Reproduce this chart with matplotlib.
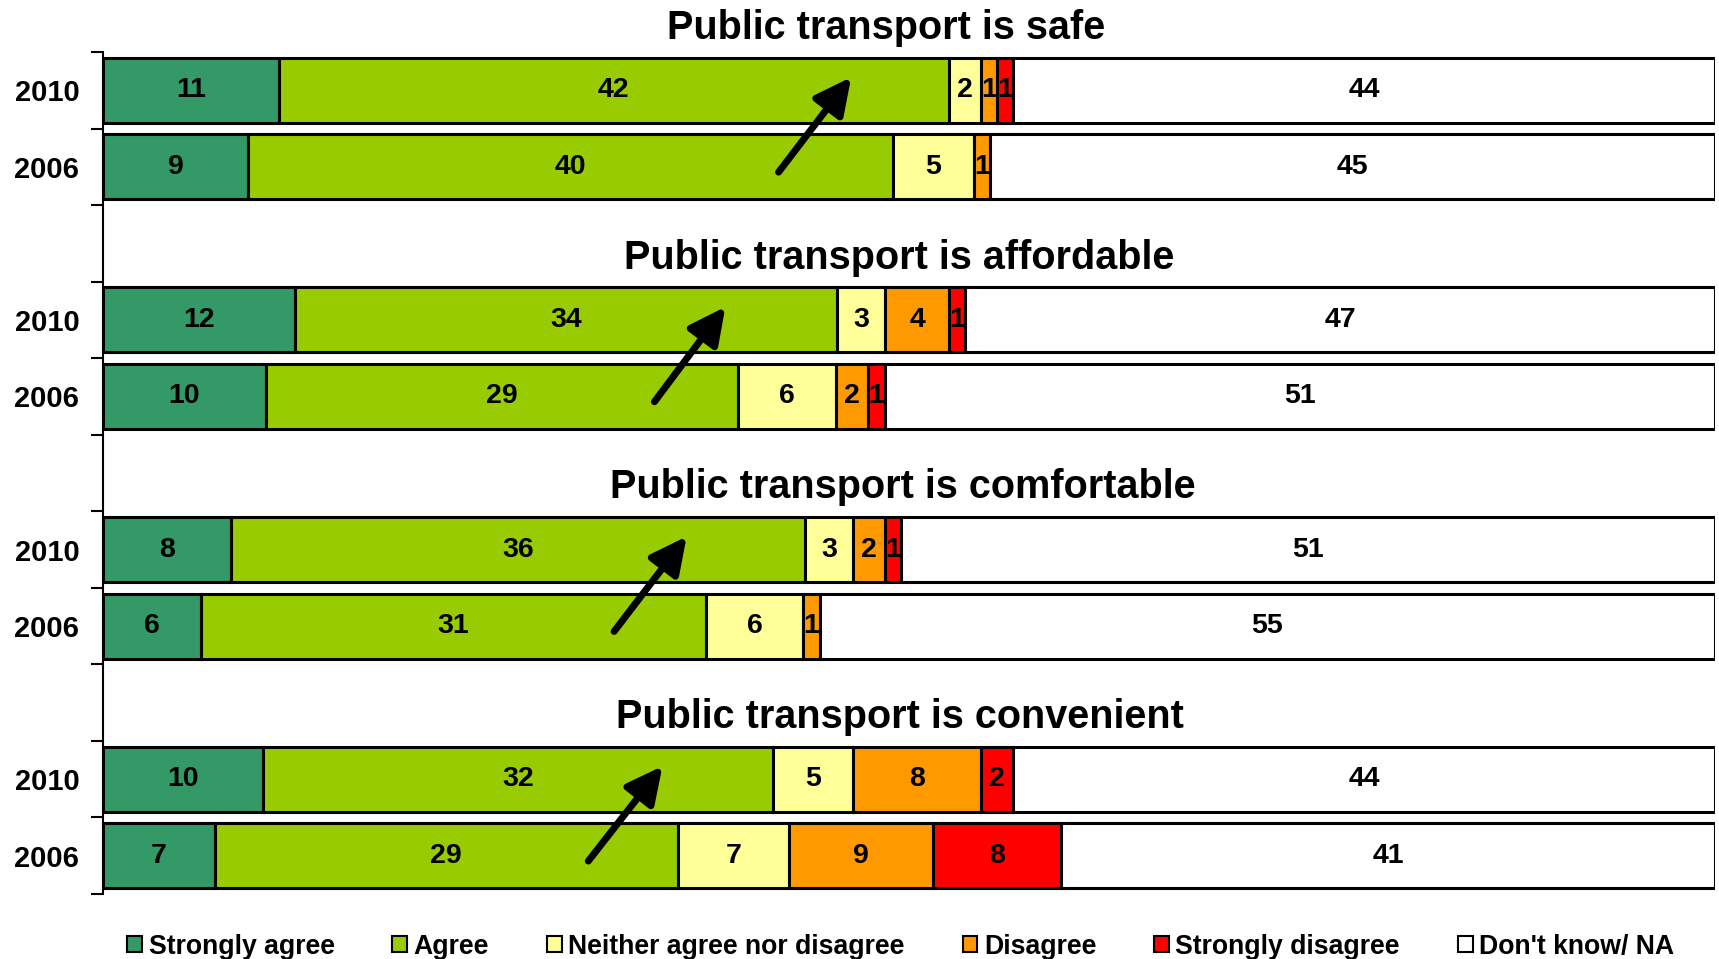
# stacked bar chart of public transport opinions, 2010 vs 2006

import matplotlib
matplotlib.use('Agg')
from matplotlib import pyplot as plt
from matplotlib.patches import Patch

plt.rcParams['font.family'] = ['Liberation Sans', 'DejaVu Sans']
plt.rcParams['font.weight'] = 'bold'

# data (rows go 2010, 2006 for each statement)
titles = ['Public transport is safe', 'Public transport is affordable',
          'Public transport is comfortable', 'Public transport is convenient']
years = ['2010', '2006']
strongly_agree = [11, 9, 12, 10, 8, 6, 10, 7]
agree = [42, 40, 34, 29, 36, 31, 32, 29]
neither = [2, 5, 3, 6, 3, 6, 5, 7]
disagree = [1, 1, 4, 2, 2, 1, 8, 9]
strongly_disagree = [1, 0, 1, 1, 1, 0, 2, 8]
dont_know = [44, 45, 47, 51, 51, 55, 44, 41]

labels = ['Strongly agree', 'Agree', 'Neither agree nor disagree',
          'Disagree', 'Strongly disagree', "Don't know/ NA"]
colors = ['#339966', '#99cc00', '#ffff99', '#ff9900', '#ff0000', '#ffffff']
series = [strongly_agree, agree, neither, disagree, strongly_disagree, dont_know]

# arrows 2006 -> 2010 (x in percent of bar)
arrow_x0 = [41.9, 34.2, 31.7, 30.1]
arrow_x1 = [46.4, 38.6, 36.2, 34.7]
title_x = [48.6, 49.4, 49.6, 49.4]

fig = plt.figure(figsize=(17.19, 9.59), dpi=100)
ax = fig.add_axes([0.0599, 0.0678, 0.9380, 0.8780])

# row positions: 2 bars per group, one empty slot for the title between groups
ypos = []
for g in range(len(titles)):
    ypos += [g * 3, g * 3 + 1]

n = len(ypos)
totals = [sum(s[i] for s in series) for i in range(n)]

left = [0.0] * n
for vals, col in zip(series, colors):
    widths = [v / t * 100 for v, t in zip(vals, totals)]
    for i in range(n):
        if vals[i] == 0:
            continue
        ax.barh(ypos[i], widths[i], left=left[i], height=0.85, color=col,
                edgecolor='black', linewidth=2.2, zorder=2)
        ax.text(left[i] + widths[i] / 2, ypos[i], str(vals[i]),
                ha='center', va='center', fontsize=20.5, fontweight='bold', zorder=3)
    left = [l + w for l, w in zip(left, widths)]

# group titles
for g, t in enumerate(titles):
    ty = g * 3 - 1 + 0.33
    ax.text(title_x[g], ty, t, ha='center', va='baseline', fontsize=28.5,
            fontweight='bold', clip_on=False)

# arrows
for g in range(len(titles)):
    ax.annotate('', xy=(arrow_x1[g], g * 3 - 0.17), xytext=(arrow_x0[g], g * 3 + 1.07),
                arrowprops=dict(arrowstyle='-|>,head_length=1.1,head_width=0.55',
                                mutation_scale=20, lw=5, color='black',
                                shrinkA=0, shrinkB=0),
                zorder=4)

ax.set_xlim(0, 100)
ax.set_ylim(10.5, -0.5)

# ticks at slot edges, year labels at slot centers
ax.set_yticks([y - 0.5 for y in range(12)])
ax.set_yticklabels([])
ax.tick_params(axis='y', which='major', length=9, width=1.5, direction='out')
ax.set_yticks(ypos, minor=True)
ax.set_yticklabels(years * len(titles), minor=True, fontsize=21, fontweight='bold')
ax.tick_params(axis='y', which='minor', length=0, pad=17)
ax.set_xticks([])

for s in ['top', 'right', 'bottom']:
    ax.spines[s].set_visible(False)
ax.spines['left'].set_linewidth(1.5)

# legend
handles = [Patch(facecolor=c, edgecolor='black', linewidth=1.5) for c in colors]
fig.legend(handles, labels, loc='center', bbox_to_anchor=(0.524, 0.013), ncol=6,
           frameon=False, handlelength=0.55, handleheight=0.55,
           handletextpad=0.25, columnspacing=2.17, borderpad=0,
           prop={'weight': 'bold', 'size': 19.2})

fig.savefig('out.png', dpi=100)
